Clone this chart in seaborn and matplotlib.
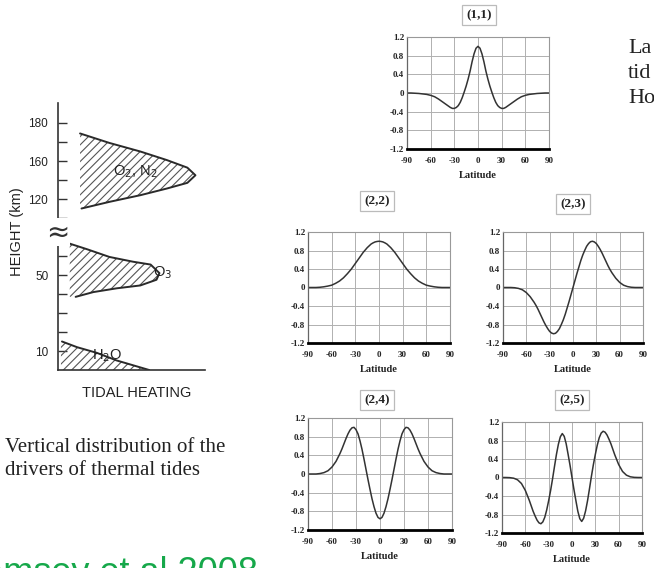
import matplotlib
matplotlib.use("Agg")
import matplotlib.pyplot as plt
import seaborn as sns

sns.set_theme(style="white")
plt.rcParams["font.family"] = ["Liberation Sans", "DejaVu Sans"]
plt.rcParams["hatch.linewidth"] = 0.8

# ---------------- vertical distribution of tidal heating ----------------
# heights are in schematic axis units (one tick per unit, axis broken above 6)
height_ticks = [1, 2, 3, 4, 5, 6, 8, 9, 10, 11, 12, 13]
height_labels = ["10", "", "", "", "50", "", "", "120", "", "160", "", "180"]

o2n2_height = [8.5, 8.85, 9.2, 9.55, 9.85, 10.25, 10.65, 11.05, 11.5, 11.95, 12.45]
o2n2_heating = [0.16, 0.35, 0.56, 0.74, 0.88, 0.935, 0.88, 0.74, 0.56, 0.35, 0.15]

o3_height = [3.85, 4.1, 4.3, 4.45, 4.75, 5.1, 5.55, 5.7, 5.95, 6.35, 6.65]
o3_heating = [0.12, 0.24, 0.40, 0.56, 0.67, 0.69, 0.63, 0.51, 0.35, 0.20, 0.08]

h2o_height = [0.0, 0.25, 0.5, 0.9, 1.2, 1.5]
h2o_heating = [0.62, 0.51, 0.40, 0.265, 0.13, 0.027]

# ---------------- Hough functions versus latitude ----------------
lat = [-90, -85, -80, -75, -70, -65, -60, -55, -50,
       -47.5, -45, -42.5, -40, -37.5, -35, -32.5, -30, -27.5, -25, -22.5,
       -20, -17.5, -15, -12.5, -10, -7.5, -5, -2.5, 0, 2.5, 5, 7.5, 10,
       12.5, 15, 17.5, 20, 22.5, 25, 27.5, 30, 32.5, 35, 37.5, 40, 42.5,
       45, 47.5,
       50, 55, 60, 65, 70, 75, 80, 85, 90]

hough_1_1 = [0.0, 0.0, -0.005, -0.01, -0.02, -0.03, -0.05, -0.08, -0.13,
             -0.16, -0.19, -0.22, -0.25, -0.28, -0.31, -0.33, -0.33, -0.31,
             -0.27, -0.20, -0.10, 0.02, 0.15, 0.30, 0.47, 0.67, 0.84, 0.96,
             1.0,
             0.96, 0.84, 0.67, 0.47, 0.30, 0.15, 0.02, -0.10, -0.20, -0.27,
             -0.31, -0.33, -0.33, -0.31, -0.28, -0.25, -0.22, -0.19, -0.16,
             -0.13, -0.08, -0.05, -0.03, -0.02, -0.01, -0.005, 0.0, 0.0]

hough_2_2 = [0.0, 0.0, 0.0, 0.005, 0.015, 0.03, 0.05, 0.09, 0.14,
             0.175, 0.21, 0.255, 0.30, 0.35, 0.40, 0.46, 0.52, 0.58, 0.64,
             0.70, 0.76, 0.81, 0.86, 0.90, 0.94, 0.965, 0.985, 0.995,
             1.0,
             0.995, 0.985, 0.965, 0.94, 0.90, 0.86, 0.81, 0.76, 0.70, 0.64,
             0.58, 0.52, 0.46, 0.40, 0.35, 0.30, 0.255, 0.21, 0.175,
             0.14, 0.09, 0.05, 0.03, 0.015, 0.005, 0.0, 0.0, 0.0]

hough_2_3 = [0.0, 0.0, 0.0, -0.005, -0.02, -0.05, -0.11, -0.20, -0.32,
             -0.39, -0.47, -0.56, -0.65, -0.74, -0.82, -0.89, -0.95, -0.985,
             -1.0, -0.99, -0.95, -0.89, -0.80, -0.70, -0.58, -0.44, -0.30,
             -0.15,
             0.0,
             0.15, 0.30, 0.44, 0.58, 0.70, 0.80, 0.89, 0.95, 0.99, 1.0,
             0.985, 0.95, 0.89, 0.82, 0.74, 0.65, 0.56, 0.47, 0.39,
             0.32, 0.20, 0.11, 0.05, 0.02, 0.005, 0.0, 0.0, 0.0]

hough_2_4 = [0.0, 0.0, 0.0, 0.01, 0.03, 0.07, 0.15, 0.27, 0.44,
             0.54, 0.65, 0.76, 0.86, 0.94, 0.99, 1.0, 0.95, 0.86, 0.71,
             0.53, 0.32, 0.10, -0.12, -0.33, -0.53, -0.70, -0.84, -0.93,
             -0.96,
             -0.93, -0.84, -0.70, -0.53, -0.33, -0.12, 0.10, 0.32, 0.53,
             0.71, 0.86, 0.95, 1.0, 0.99, 0.94, 0.86, 0.76, 0.65, 0.54,
             0.44, 0.27, 0.15, 0.07, 0.03, 0.01, 0.0, 0.0, 0.0]

hough_2_5 = [0.0, 0.0, -0.003, -0.015, -0.05, -0.13, -0.28, -0.49, -0.73,
             -0.83, -0.92, -0.98, -1.0, -0.96, -0.86, -0.70, -0.50, -0.28,
             -0.03, 0.24, 0.50, 0.72, 0.88, 0.95, 0.89, 0.73, 0.50, 0.26,
             0.0,
             -0.26, -0.50, -0.73, -0.89, -0.95, -0.88, -0.72, -0.50, -0.24,
             0.03, 0.28, 0.50, 0.70, 0.86, 0.96, 1.0, 0.98, 0.92, 0.83,
             0.73, 0.49, 0.28, 0.13, 0.05, 0.015, 0.003, 0.0, 0.0]

hough_titles = ["(1,1)", "(2,2)", "(2,3)", "(2,4)", "(2,5)"]
hough_values = [hough_1_1, hough_2_2, hough_2_3, hough_2_4, hough_2_5]

lat_ticks = [-90, -60, -30, 0, 30, 60, 90]
amp_ticks = [1.2, 0.8, 0.4, 0, -0.4, -0.8, -1.2]
amp_labels = ["1.2", "0.8", "0.4", "0", "-0.4", "-0.8", "-1.2"]

# ---------------- figure ----------------
W, H = 654, 568
fig = plt.figure(figsize=(W / 100, H / 100), dpi=100, facecolor="white")


def px_rect(left, top, right, bottom):
    return [left / W, 1 - bottom / H, (right - left) / W, (bottom - top) / H]


def fig_xy(x, y):
    return x / W, 1 - y / H


SERIF = ["Liberation Serif", "DejaVu Serif"]
INK = "#222222"

# left: heating profiles
ax = fig.add_axes(px_rect(58, 103, 205, 370))
hatch_kw = dict(facecolor="none", edgecolor="#555555", linewidth=0, hatch="////")
ax.fill_betweenx(o2n2_height, 0.15, o2n2_heating, **hatch_kw)
ax.fill_betweenx(o3_height, 0.08, o3_heating, **hatch_kw)
ax.fill_betweenx(h2o_height, 0.02, h2o_heating, **hatch_kw)
for xs, ys in [(o2n2_heating, o2n2_height), (o3_heating, o3_height),
               (h2o_heating, h2o_height)]:
    sns.lineplot(x=xs, y=ys, sort=False, estimator=None, color="#2a2a2a",
                 linewidth=1.4, ax=ax)

ax.set_xlim(0, 1)
ax.set_ylim(0, 267 / 19)
ax.set_xticks([])
ax.set_yticks(height_ticks, height_labels)
ax.tick_params(axis="y", direction="in", length=6.5, width=1.0, pad=7,
               labelsize=8.5, colors="#333333", labelcolor=INK, left=True)
for side in ["top", "right"]:
    ax.spines[side].set_visible(False)
for side in ["left", "bottom"]:
    ax.spines[side].set_color("#333333")
    ax.spines[side].set_linewidth(1.2)
ax.set_facecolor("white")

ax.text(0, 7.25, "\u2248", ha="center", va="center", fontsize=20,
        color="#333333", family="DejaVu Sans",
        bbox=dict(boxstyle="square,pad=0", fc="white", ec="none"))

ax.text(0.524, 10.42, r"O$_2$, N$_2$", ha="center", va="center",
        fontsize=10.5, color=INK)
ax.text(0.645, 5.1, r"O$_3$", ha="left", va="center", fontsize=10.5, color=INK)
ax.text(0.333, 0.74, r"H$_2$O", ha="center", va="center", fontsize=10.5,
        color=INK)

fig.text(*fig_xy(17, 232), "HEIGHT (km)", rotation=90, ha="center",
         va="center", fontsize=10.5, color=INK)
fig.text(*fig_xy(137, 393), "TIDAL HEATING", ha="center", va="center",
         fontsize=10.5, color=INK)

fig.text(*fig_xy(5, 452), "Vertical distribution of the", ha="left",
         va="baseline", fontsize=15, family=SERIF, color=INK)
fig.text(*fig_xy(5, 475), "drivers of thermal tides", ha="left",
         va="baseline", fontsize=15, family=SERIF, color=INK)

fig.text(*fig_xy(258, 583), "Ramsey et al 2008", ha="right", va="baseline",
         fontsize=26, color="#16a84a")

for yb, word in [(53, "La"), (78, "tid"), (103, "Ho")]:
    fig.text(*fig_xy(628, yb), word, ha="left", va="baseline", fontsize=16,
             family=SERIF, color=INK)

# right: Hough function panels
panel_rects = [
    (407, 37, 549, 149),
    (308, 232, 450, 343),
    (503, 232, 643, 343),
    (308, 418, 452, 530),
    (502, 422, 642, 533),
]
title_pos = [(479, 15), (377, 201), (573, 204), (377, 400), (572, 400)]

for title, vals, rect, tpos in zip(hough_titles, hough_values, panel_rects,
                                   title_pos):
    hx = fig.add_axes(px_rect(*rect))
    sns.lineplot(x=lat, y=vals, color="#333333", linewidth=1.1, ax=hx)
    hx.set_xlim(-90, 90)
    hx.set_ylim(-1.2, 1.2)
    hx.set_xticks(lat_ticks, [str(t) for t in lat_ticks])
    hx.set_yticks(amp_ticks, amp_labels)
    hx.grid(True, color="#b0b0b0", linewidth=0.7)
    hx.tick_params(length=0, labelsize=6.5, labelcolor=INK)
    hx.tick_params(axis="x", pad=6)
    hx.tick_params(axis="y", pad=2)
    for lab in hx.get_xticklabels() + hx.get_yticklabels():
        lab.set_family(SERIF)
        lab.set_fontweight("bold")
    hx.set_xlabel("Latitude", fontsize=7.5, fontweight="bold", family=SERIF,
                  color=INK, labelpad=4)
    hx.set_ylabel("")
    hx.spines["left"].set_color("#666666")
    hx.spines["left"].set_linewidth(0.9)
    for side in ["top", "right"]:
        hx.spines[side].set_color("#999999")
        hx.spines[side].set_linewidth(0.8)
    hx.spines["bottom"].set_color("black")
    hx.spines["bottom"].set_linewidth(2.0)
    hx.set_facecolor("white")
    fig.text(*fig_xy(*tpos), title, ha="center", va="center", fontsize=9.5,
             fontweight="bold", family=SERIF, color=INK,
             bbox=dict(boxstyle="square,pad=0.3", fc="white", ec="#bbbbbb",
                       lw=0.9))

fig.savefig("out.png", dpi=100, facecolor="white")
